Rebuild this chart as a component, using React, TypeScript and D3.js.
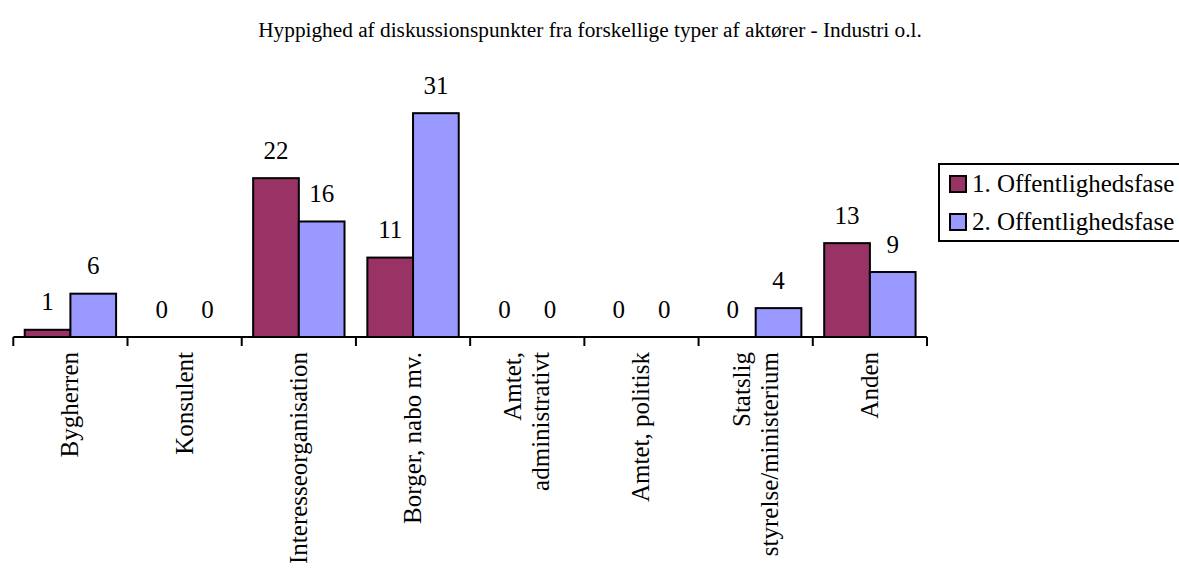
import React from "react";
import * as d3 from "d3";

const title = "Hyppighed af diskussionspunkter fra forskellige typer af aktører - Industri o.l.";
const categories = [
  "Bygherren",
  "Konsulent",
  "Interesseorganisation",
  "Borger, nabo mv.",
  "Amtet, administrativt",
  "Amtet, politisk",
  "Statslig styrelse/ministerium",
  "Anden",
];
const categoryLines = [
  ["Bygherren"],
  ["Konsulent"],
  ["Interesseorganisation"],
  ["Borger, nabo mv."],
  ["Amtet,", "administrativt"],
  ["Amtet, politisk"],
  ["Statslig", "styrelse/ministerium"],
  ["Anden"],
];
const seriesNames = ["1. Offentlighedsfase", "2. Offentlighedsfase"];
const phase1 = [1, 0, 22, 11, 0, 0, 0, 13];
const phase2 = [6, 0, 16, 31, 0, 0, 4, 9];
const colors = ["#993366", "#9999FF"];

const W = 1179;
const H = 569;
const FONT = "'Liberation Serif', 'Times New Roman', serif";

export default function App() {
  const x0 = d3.scaleBand<string>().domain(categories).range([13.3, 927]).padding(0);
  const x1 = d3
    .scaleBand<string>()
    .domain(seriesNames)
    .range([0, x0.bandwidth()])
    .paddingInner(0)
    .paddingOuter(0.25);
  const y = d3.scaleLinear().domain([0, 35]).range([337, 337 - 35 * 7.22]);
  const series = [phase1, phase2];
  const baseY = y(0);

  return (
    <svg width={W} height={H} style={{ position: "absolute", left: 0, top: 0, background: "#fff" }}>
      <text x={590} y={37} textAnchor="middle" fontFamily={FONT} fontSize={21.3} fill="#000">
        {title}
      </text>

      {categories.map((c, i) =>
        series.map((vals, s) => {
          const bx = (x0(c) as number) + (x1(seriesNames[s]) as number);
          const bw = x1.bandwidth();
          const top = y(vals[i]);
          return (
            <g key={`${c}-${s}`}>
              <rect
                x={bx}
                y={top}
                width={bw}
                height={baseY - top}
                fill={colors[s]}
                stroke="#000"
                strokeWidth={2}
              />
              <text
                x={bx + bw / 2}
                y={top - 19.5}
                textAnchor="middle"
                fontFamily={FONT}
                fontSize={25}
                fill="#000"
              >
                {vals[i]}
              </text>
            </g>
          );
        })
      )}

      <line x1={13.3} x2={927} y1={baseY} y2={baseY} stroke="#000" strokeWidth={2} />
      {[...categories.map((c) => x0(c) as number), 927].map((tx, i) => (
        <line key={i} x1={tx} x2={tx} y1={baseY} y2={baseY + 9} stroke="#000" strokeWidth={2} />
      ))}

      {categories.map((c, i) => {
        const cx = (x0(c) as number) + x0.bandwidth() / 2;
        const lines = categoryLines[i];
        const lh = 28;
        return (
          <text
            key={c}
            transform={`translate(${cx},352) rotate(-90)`}
            textAnchor="end"
            fontFamily={FONT}
            fontSize={25}
            fill="#000"
          >
            {lines.map((l, k) => (
              <tspan key={k} x={0} y={(k - (lines.length - 1) / 2) * lh + 8}>
                {l}
              </tspan>
            ))}
          </text>
        );
      })}

      <rect x={939} y={164} width={260} height={77} fill="#fff" stroke="#000" strokeWidth={2} />
      {seriesNames.map((n, s) => (
        <g key={n}>
          <rect x={950} y={176 + s * 38} width={16} height={16} fill={colors[s]} stroke="#000" strokeWidth={2} />
          <text x={972} y={192 + s * 38} fontFamily={FONT} fontSize={25} fill="#000">
            {n}
          </text>
        </g>
      ))}
    </svg>
  );
}
